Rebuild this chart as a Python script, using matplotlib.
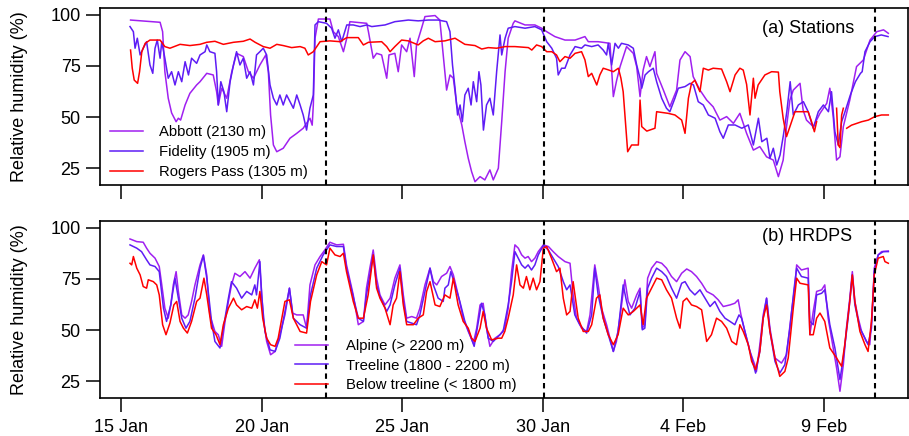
import matplotlib
matplotlib.use("Agg")
import matplotlib.pyplot as plt
import numpy as np

nan = np.nan

# ---- x axis: days since 15 Jan 00:00 ----
tick_days = [0, 5, 10, 15, 20, 25]
tick_labels = ["15 Jan", "20 Jan", "25 Jan", "30 Jan", "4 Feb", "9 Feb"]
event_days = [7.30, 15.05, 26.81]

# ---- (a) Stations ----
abbott_t = [0.34, 1.39, 1.48, 1.56, 1.68, 1.80, 1.96, 2.04, 2.12, 2.28, 2.45, 2.69, 2.81, 3.05, 3.28, 3.40, 3.46,
            3.58, 3.76, 3.94, 4.11, 4.35, 4.53, 4.71, 4.94, 5.15, 5.24, 5.32, 5.42, 5.54, 5.77, 6.01, 6.25, 6.48,
            6.72, 6.80, 6.84, 6.90, 7.02, 7.43, 7.55, 7.73, 7.91, 8.03, 8.14, 8.74, 8.80, 8.97, 9.09, 9.27, 9.45,
            9.53, 9.74, 9.86, 9.98, 10.16, 10.28, 10.43, 10.51, 10.69, 10.81, 11.17, 11.34, 11.46, 11.58, 11.70,
            11.82, 11.94, 12.12, 12.23, 12.35, 12.47, 12.59, 12.77, 12.94, 13.12, 13.24, 13.42, 13.54, 13.66,
            13.77, 13.95, 14.01, 14.37, 14.72, 14.96, 15.14, 15.43, 15.79, 16.15, 16.50, 16.62, 16.97, 17.39,
            17.51, 17.63, 17.75, 17.98, 18.22, 18.34, 18.46, 18.57, 18.69, 18.81, 18.99, 19.05, 19.29, 19.52,
            19.76, 19.88, 20.06, 20.24, 20.35, 20.59, 20.83, 21.06, 21.30, 21.54, 21.78, 22.01, 22.25, 22.49,
            22.72, 22.96, 23.20, 23.38, 23.55, 23.67, 23.79, 23.91, 24.15, 24.26, 24.38, 24.62, 24.86, 25.10,
            25.21, 25.33, 25.45, 25.57, 25.69, 25.92, 26.16, 26.40, 26.64, 26.88, 27.12, 27.29]
abbott_rh = [97.5, 96.4, 91.8, 72.2, 59.2, 52.0, 47.7, 49.4, 48.5, 55.9, 61.6, 65.7, 67.3, 71.4, 70.6, 62.4, 55.9,
             64.1, 59.2, 72.2, 81.2, 79.6, 72.2, 69.0, 75.5, 80.4, 72.2, 51.0, 36.3, 33.0, 34.7, 39.6, 42.0, 44.5,
             49.4, 46.0, 55.9, 88.6, 98.0, 98.0, 91.8, 89.4, 82.0, 88.6, 96.7, 95.9, 91.8, 78.8, 81.2, 80.4, 69.0,
             80.4, 81.2, 72.2, 85.3, 82.0, 88.6, 69.8, 85.3, 93.5, 99.2, 99.7, 97.5, 80.4, 63.2, 70.6,
             69.0, 55.9, 46.1, 37.9, 29.8, 23.2, 18.3, 20.8, 19.2, 24.1, 19.2, 24.9, 47.7, 72.2,
             88.6, 95.9, 97.1, 95.1, 95.1, 93.5, 91.8, 89.4, 87.7, 87.7, 89.4, 86.9, 86.9, 86.1,
             60.0, 68.1, 74.7, 84.5, 81.2, 74.7, 60.0, 73.0, 79.6, 74.7, 82.0, 71.4, 63.2, 55.0,
             63.2, 77.9, 82.0, 79.6, 69.8, 63.2, 58.3, 55.0, 48.5, 50.2, 46.9, 51.8, 42.0, 33.8,
             35.5, 30.5, 28.9, 20.8, 28.9, 45.3, 58.3, 63.2, 66.5, 53.4, 48.5, 45.3, 51.8, 56.7,
             64.1, 50.2, 28.9, 30.5, 45.3, 58.3, 74.7, 77.9, 87.7, 91.8, 92.7, 91.0]

fidelity_t = [0.32, 0.44, 0.50, 0.58, 0.68, 0.79, 0.91, 1.03, 1.13, 1.21, 1.29, 1.39, 1.45, 1.56, 1.68, 1.80, 1.92,
              2.04, 2.16, 2.28, 2.40, 2.51, 2.69, 2.81, 2.99, 3.05, 3.16, 3.34, 3.40, 3.46, 3.55, 3.66, 3.76, 3.88,
              4.00, 4.11, 4.23, 4.35, 4.47, 4.59, 4.71, 4.82, 4.94, 5.06, 5.18, 5.30, 5.42, 5.54, 5.65, 5.77, 5.89,
              6.01, 6.13, 6.25, 6.37, 6.48, 6.60, 6.72, 6.84, 6.90, 7.02, 7.31, 7.49, 7.61, 7.73, 7.85, 8.03, 8.26,
              8.50, 8.74, 8.92, 9.39, 9.74, 10.22, 10.57, 10.93, 11.28, 11.58, 11.70, 11.79, 11.88, 11.97, 12.06,
              12.14, 12.23, 12.35, 12.45, 12.53, 12.65, 12.73, 12.80, 12.89, 13.00, 13.12, 13.24, 13.36, 13.48,
              13.54, 13.66, 13.77, 14.01, 14.37, 14.72, 14.96, 15.14, 15.32, 15.49, 15.55, 15.67, 15.79, 15.97,
              16.15, 16.38, 16.50, 16.74, 16.97, 17.15, 17.27, 17.33, 17.45, 17.57, 17.69, 17.80, 18.04, 18.22,
              18.34, 18.46, 18.52, 18.64, 18.76, 18.93, 19.05, 19.23, 19.40, 19.52, 19.70, 19.82, 20.06, 20.24,
              20.36, 20.53, 20.71, 20.89, 21.13, 21.30, 21.42, 21.60, 21.84, 22.08, 22.31, 22.49, 22.67, 22.79,
              22.97, 23.08, 23.20, 23.32, 23.44, 23.56, 23.68, 23.80, 23.91, 24.09, 24.27, 24.44, 24.62, 24.80,
              24.98, 25.16, 25.27, 25.39, 25.51, 25.63, 25.75, 25.94, 26.12, 26.30, 26.36, 26.46, 26.64, 26.81,
              27.04, 27.28]
fidelity_rh = [94.3, 91.8, 83.7, 88.6, 80.4, 83.7, 86.9, 75.5, 71.4, 83.7, 87.7, 78.8, 86.9, 78.8, 69.0, 72.2, 65.7,
               72.2, 67.3, 77.1, 70.6, 78.8, 76.3, 80.4, 82.0, 85.3, 82.0, 81.2, 72.2, 55.9, 67.3, 62.4, 52.6, 67.3,
               75.5, 82.0, 75.5, 78.8, 69.0, 72.2, 65.7, 80.4, 82.0, 83.7, 80.4, 65.7, 59.2, 55.9, 60.8, 55.9, 60.8,
               57.5, 54.3, 60.8, 55.9, 51.0, 43.6, 54.3, 60.8, 95.1, 96.7, 95.9, 93.5, 88.6, 92.7, 86.9, 95.1, 95.1,
               94.3, 95.1, 94.3, 95.1, 96.7, 97.5, 97.1, 97.5, 97.5, 96.7, 91.8, 75.5, 64.1, 51.0, 55.9,
               47.7, 60.8, 64.1, 55.9, 67.3, 57.5, 72.2, 65.7, 43.6, 55.9, 59.2, 51.0, 72.2, 90.2,
               80.4, 88.6, 93.5, 94.3, 93.5, 94.3, 92.7, 86.9, 83.7, 78.8, 70.6, 73.9, 73.9, 80.4,
               84.5, 83.7, 85.3, 84.5, 85.3, 82.8, 80.4, 86.1, 75.5, 86.1, 83.7, 86.1, 85.3, 83.7,
               75.5, 69.0, 64.1, 70.6, 72.2, 73.9, 67.3, 59.2, 54.3, 52.6, 59.2, 64.1, 64.9, 66.5,
               65.7, 57.5, 55.9, 51.0, 49.4, 42.8, 39.6, 46.1, 46.1, 44.5, 46.1, 36.3, 49.4, 37.9,
               39.6, 29.8, 34.7, 26.5, 31.4, 41.2, 52.6, 67.3, 51.0, 55.9, 57.5, 52.6, 44.5, 52.6,
               55.9, 52.6, 62.4, 42.8, 36.3, 47.7, 52.6, 60.8, 67.3, 71.4, 72.2, 82.0, 86.9, 89.4,
               90.2, 89.4]

rogers_t = [0.34, 0.40, 0.47, 0.59, 0.66, 0.74, 0.86, 1.03, 1.39, 1.56, 1.74, 2.10, 2.45, 2.81, 3.05, 3.34, 3.64,
            4.00, 4.35, 4.59, 4.77, 5.06, 5.30, 5.54, 5.77, 6.07, 6.37, 6.54, 6.66, 6.84, 7.08, 7.43, 7.79, 8.03,
            8.44, 8.62, 8.80, 9.27, 9.45, 9.57, 9.74, 9.98, 10.22, 10.57, 10.75, 10.93, 11.17, 11.52, 11.88,
            12.23, 12.59, 12.83, 13.06, 13.36, 13.66, 14.01, 14.49, 14.61, 14.78, 14.96, 15.14, 15.32, 15.49,
            15.61, 15.79, 15.97, 16.15, 16.38, 16.50, 16.62, 16.74, 16.92, 17.03, 17.15, 17.33, 17.51, 17.69,
            17.78, 17.86, 17.95, 18.02, 18.16, 18.40, 18.46, 18.52, 18.70, 18.99, 19.05, 19.46, 19.70, 19.94,
            20.06, 20.18, 20.29, 20.41, 20.59, 20.71, 20.89, 21.06, 21.36, 21.54, 21.66, 21.84, 22.01, 22.13,
            22.25, 22.37, 22.49, 22.55, 22.66, 22.90, 23.14, 23.38, 23.43, 23.55, 23.67, 23.85, 23.97, 24.44,
            24.56, 24.66, 24.74, 25.10, 25.45, 25.51, 25.57, 25.63, 25.69, 25.75, 25.81, 25.98, 26.34, 26.58,
            26.81, 27.05, 27.29]
rogers_rh = [82.8, 73.9, 68.1, 66.5, 72.2, 82.0, 86.1, 87.7, 87.7, 84.5, 83.7, 85.6, 85.0, 85.6, 86.6, 87.1, 85.6,
             86.6, 87.1, 88.2, 86.6, 84.5, 83.7, 85.6, 85.0, 84.0, 84.5, 83.7, 80.4, 82.0, 86.9, 87.3, 86.9, 88.9,
             88.9, 85.3, 86.6, 86.9, 84.5, 82.0, 84.5, 87.7, 87.3, 85.3, 87.3, 88.6, 86.9, 87.3, 88.6,
             85.6, 85.0, 83.3, 84.0, 83.7, 84.5, 84.5, 84.0, 82.8, 85.3, 84.5, 82.0, 82.0, 80.4,
             77.1, 79.6, 78.8, 81.2, 82.0, 78.0, 69.8, 71.4, 65.7, 70.6, 73.9, 73.1, 72.2, 73.9,
             69.0, 62.4, 46.1, 33.0, 36.3, 36.3, 58.3, 45.3, 43.1, 44.5, 52.6, 51.8, 51.0, 48.5,
             42.0, 59.2, 66.5, 68.0, 62.4, 73.9, 73.0, 73.9, 73.5, 67.3, 62.4, 70.6, 73.9, 73.0,
             66.0, 51.0, 69.0, 59.2, 65.7, 70.6, 72.2, 72.0, 62.4, 49.4, 40.4, 47.7, 52.6, 52.6,
             47.7, 42.8, 47.7, nan, 54.3, 36.3, 35.0, 51.0, 54.3, nan, 44.5, 46.0, 47.7, 48.5,
             50.2, 51.0, 51.0]

# ---- (b) HRDPS ----
alpine_t = [0.32, 0.56, 0.79, 0.91, 1.03, 1.21, 1.36, 1.45, 1.56, 1.68, 1.77, 1.86, 1.96, 2.04, 2.16, 2.28, 2.39,
            2.51, 2.63, 2.81, 2.93, 3.05, 3.16, 3.34, 3.46, 3.58, 3.70, 3.82, 3.93, 4.05, 4.23, 4.41, 4.59, 4.76,
            4.92, 5.00, 5.06, 5.18, 5.32, 5.48, 5.65, 5.83, 5.99, 6.10, 6.25, 6.48, 6.60, 6.72, 6.90, 7.08, 7.25,
            7.43, 7.67, 7.91, 8.02, 8.26, 8.44, 8.62, 8.73, 8.85, 8.97, 9.09, 9.21, 9.39, 9.57, 9.74, 9.92,
            10.04, 10.16, 10.34, 10.51, 10.63, 10.81, 10.99, 11.11, 11.23, 11.40, 11.58, 11.70, 11.82, 11.99,
            12.17, 12.35, 12.53, 12.65, 12.77, 12.88, 13.00, 13.12, 13.30, 13.48, 13.65, 13.77, 13.89, 14.01,
            14.13, 14.25, 14.37, 14.48, 14.60, 14.72, 14.84, 15.02, 15.20, 15.37, 15.55, 15.79, 15.97, 16.08,
            16.20, 16.38, 16.56, 16.68, 16.85, 16.97, 17.09, 17.27, 17.39, 17.51, 17.62, 17.74, 17.92, 18.04,
            18.16, 18.34, 18.46, 18.54, 18.63, 18.73, 18.87, 19.05, 19.23, 19.40, 19.58, 19.76, 19.94, 20.12,
            20.29, 20.47, 20.65, 20.83, 21.06, 21.24, 21.42, 21.66, 21.83, 21.95, 22.05, 22.19, 22.37, 22.54,
            22.60, 22.72, 22.84, 22.96, 23.08, 23.26, 23.49, 23.67, 23.85, 23.97, 24.03, 24.20, 24.44, 24.50,
            24.62, 24.74, 24.92, 25.03, 25.15, 25.33, 25.45, 25.57, 25.69, 25.80, 25.92, 26.01, 26.10, 26.22,
            26.34, 26.51, 26.63, 26.72, 26.79, 26.93, 27.05, 27.29]
alpine_rh = [94.6, 93.3, 93.0, 90.1, 87.6, 85.2, 81.1, 72.1, 60.7, 55.8, 62.3, 72.1, 78.6, 68.9, 57.4, 55.8, 57.4,
             64.0, 72.1, 81.9, 86.8, 77.0, 57.4, 49.3, 47.7, 42.0, 54.2, 64.0, 72.1, 77.8, 76.2, 78.6, 75.4, 80.3,
             84.4, 68.9, 55.8, 44.4, 37.9, 39.5, 47.7, 57.4, 70.5, 58.3, 57.4, 57.4, 50.9, 72.1, 81.9, 86.0, 89.2,
             93.0, 91.7, 92.0, 81.9, 67.2, 52.6, 54.2, 70.5, 80.3, 89.2, 75.4, 67.2, 62.3, 65.6, 75.4, 81.9,
             67.2, 55.8, 56.6, 55.8, 60.7, 72.1, 80.3, 73.7, 72.1, 76.2, 77.8, 81.1, 77.0, 67.2,
             55.8, 49.3, 43.6, 50.9, 62.3, 63.1, 50.9, 42.0, 46.0, 47.7, 50.9, 60.7, 78.6, 91.7,
             90.1, 86.8, 85.2, 86.0, 83.5, 85.2, 88.4, 91.7, 90.9, 88.4, 86.0, 83.5, 82.7, 67.2,
             55.8, 50.9, 49.3, 57.4, 81.9, 72.1, 60.7, 52.6, 46.0, 39.5, 44.4, 55.8, 74.6, 64.0,
             60.7, 67.2, 70.5, 50.9, 52.6, 75.4, 80.3, 83.5, 82.7, 80.3, 76.2, 73.7, 77.8, 79.9,
             78.6, 76.2, 72.9, 68.9, 67.2, 64.8, 61.5, 62.3, 63.1, 64.8, 57.4, 49.3, 39.5, 33.0,
             29.7, 42.8, 57.4, 65.6, 50.9, 36.3, 33.8, 37.9, 59.1, 72.1, 81.9, 79.4, 80.3, 47.7,
             59.1, 68.9, 69.7, 72.1, 55.8, 41.2, 31.4, 20.0, 33.0, 50.9, 65.6, 78.6, 64.0, 55.8,
             49.3, 44.4, 42.8, 59.1, 80.3, 86.8, 88.4, 88.7]

treeline_t = [0.32, 0.56, 0.73, 0.91, 1.03, 1.21, 1.36, 1.51, 1.62, 1.77, 1.92, 2.04, 2.16, 2.31, 2.45, 2.63, 2.81,
              2.93, 3.05, 3.22, 3.34, 3.52, 3.64, 3.82, 3.93, 4.11, 4.29, 4.47, 4.65, 4.76, 4.82, 4.94, 5.00, 5.12,
              5.30, 5.48, 5.65, 5.83, 5.99, 6.13, 6.37, 6.60, 6.74, 6.96, 7.19, 7.43, 7.67, 7.91, 8.02, 8.26, 8.44,
              8.62, 8.73, 8.85, 8.97, 9.09, 9.21, 9.45, 9.57, 9.74, 9.92, 10.04, 10.16, 10.34, 10.51, 10.63, 10.81,
              10.99, 11.11, 11.28, 11.46, 11.52, 11.64, 11.73, 11.88, 12.05, 12.23, 12.41, 12.56, 12.71, 12.82,
              12.94, 13.06, 13.24, 13.42, 13.59, 13.77, 13.89, 14.01, 14.13, 14.25, 14.37, 14.48, 14.60, 14.72,
              14.84, 15.02, 15.20, 15.37, 15.55, 15.73, 15.85, 15.97, 16.14, 16.32, 16.56, 16.74, 16.85, 16.97,
              17.15, 17.33, 17.51, 17.68, 17.86, 17.98, 18.10, 18.28, 18.46, 18.54, 18.63, 18.73, 18.87, 19.05,
              19.23, 19.40, 19.58, 19.76, 19.94, 20.06, 20.23, 20.41, 20.59, 20.77, 20.95, 21.12, 21.30, 21.48,
              21.66, 21.83, 21.98, 22.07, 22.25, 22.43, 22.57, 22.72, 22.84, 22.96, 23.08, 23.26, 23.43, 23.61,
              23.79, 23.94, 24.03, 24.20, 24.44, 24.50, 24.62, 24.74, 24.92, 25.03, 25.21, 25.39, 25.57, 25.69,
              25.86, 26.01, 26.10, 26.28, 26.46, 26.57, 26.69, 26.79, 26.93, 27.11, 27.29]
treeline_rh = [91.7, 90.1, 88.4, 84.4, 81.9, 81.1, 78.6, 60.7, 54.2, 62.3, 75.4, 65.6, 55.8, 50.9, 54.2, 65.6, 80.3,
               86.5, 75.4, 54.2, 44.4, 41.2, 50.9, 65.6, 73.7, 70.5, 65.6, 68.9, 67.2, 72.1, 67.2, 83.5, 67.2, 49.3,
               40.3, 39.5, 46.0, 59.1, 70.5, 55.8, 52.6, 50.9, 67.2, 80.3, 86.8, 91.7, 90.9, 90.9, 80.3, 66.4, 55.8,
               54.2, 67.2, 77.0, 86.8, 72.1, 66.4, 59.1, 62.3, 72.1, 80.3, 64.0, 54.2, 53.4, 52.6, 57.4, 68.9,
               80.3, 72.1, 65.6, 64.0, 70.5, 72.1, 78.6, 72.1, 64.0, 54.2, 47.7, 42.0, 54.2, 63.1,
               57.4, 46.0, 44.4, 46.9, 49.3, 62.3, 73.7, 88.4, 85.2, 81.9, 80.3, 81.9, 79.4, 81.9,
               86.8, 91.4, 89.2, 85.2, 81.1, 73.7, 69.7, 72.1, 57.4, 52.6, 48.5, 57.4, 80.3, 67.2,
               55.8, 47.7, 39.5, 49.3, 72.1, 64.0, 57.4, 60.7, 68.9, 50.1, 50.9, 70.5, 75.4, 80.3,
               78.6, 76.2, 70.5, 65.6, 72.9, 73.7, 69.7, 67.2, 69.7, 65.6, 61.5, 64.0, 59.1, 55.8,
               54.2, 52.6, 57.4, 55.8, 46.0, 36.3, 28.9, 39.5, 55.8, 65.6, 49.3, 34.6, 28.9, 33.0,
               50.9, 70.5, 80.3, 76.2, 75.4, 54.2, 52.6, 67.2, 68.0, 69.7, 52.6, 41.2, 25.7, 36.3,
               55.8, 77.0, 62.3, 50.9, 46.0, 42.8, 50.9, 78.6, 86.8, 88.4, 88.4]

below_t = [0.32, 0.38, 0.44, 0.56, 0.68, 0.79, 0.91, 0.97, 1.15, 1.27, 1.36, 1.48, 1.60, 1.74, 1.88, 1.98, 2.10,
           2.22, 2.36, 2.51, 2.69, 2.81, 2.95, 3.05, 3.22, 3.38, 3.52, 3.64, 3.82, 4.00, 4.11, 4.29, 4.47, 4.65,
           4.76, 4.85, 4.94, 5.04, 5.18, 5.32, 5.48, 5.59, 5.83, 5.99, 6.13, 6.37, 6.60, 6.74, 6.96, 7.14, 7.31,
           7.43, 7.61, 7.79, 7.91, 8.02, 8.26, 8.44, 8.62, 8.79, 8.85, 8.97, 9.09, 9.21, 9.39, 9.57, 9.68, 9.80,
           9.92, 10.04, 10.16, 10.40, 10.57, 10.75, 10.87, 10.99, 11.17, 11.34, 11.52, 11.70, 11.82, 11.99,
           12.17, 12.35, 12.47, 12.59, 12.77, 12.88, 13.00, 13.18, 13.42, 13.54, 13.65, 13.77, 13.95, 14.07,
           14.19, 14.31, 14.42, 14.54, 14.66, 14.78, 14.90, 15.02, 15.14, 15.31, 15.49, 15.61, 15.73, 15.85,
           15.97, 16.08, 16.26, 16.44, 16.62, 16.74, 16.91, 17.03, 17.15, 17.33, 17.51, 17.68, 17.86, 18.04,
           18.22, 18.46, 18.57, 18.69, 18.87, 19.05, 19.23, 19.40, 19.58, 19.76, 19.88, 19.99, 20.12, 20.29,
           20.47, 20.65, 20.83, 21.00, 21.18, 21.36, 21.54, 21.72, 21.89, 22.01, 22.13, 22.31, 22.43, 22.57,
           22.72, 22.84, 22.96, 23.08, 23.26, 23.43, 23.61, 23.73, 23.91, 24.03, 24.15, 24.44, 24.50, 24.62,
           24.74, 24.86, 25.03, 25.21, 25.45, 25.63, 25.74, 25.92, 26.01, 26.10, 26.28, 26.46, 26.57, 26.69,
           26.79, 26.93, 27.11, 27.17, 27.29]
below_rh = [82.7, 81.9, 86.0, 80.3, 77.0, 71.3, 70.5, 74.6, 73.7, 72.1, 67.2, 52.6, 47.7, 53.4, 62.3, 64.0, 54.2,
            50.9, 48.5, 54.2, 64.0, 65.6, 75.4, 67.2, 50.9, 47.7, 42.8, 52.6, 60.7, 65.6, 62.3, 59.9, 61.5, 60.7,
            64.8, 60.7, 68.9, 55.8, 46.0, 42.8, 42.0, 46.0, 64.0, 64.8, 55.8, 49.3, 48.5, 64.0, 77.0, 83.5, 81.9,
            90.1, 86.8, 86.0, 87.6, 78.6, 64.0, 55.8, 55.8, 67.2, 73.7, 86.8, 70.5, 65.6, 60.7, 52.6, 62.3, 65.6,
            78.6, 62.3, 52.6, 52.6, 55.8, 57.4, 68.9, 73.7, 62.3, 61.5, 67.2, 65.6, 75.4, 62.3,
            54.2, 50.9, 46.0, 44.4, 50.9, 59.1, 50.9, 45.2, 46.0, 46.0, 49.3, 55.8, 67.2, 81.9,
            72.1, 70.5, 76.2, 69.7, 75.4, 69.7, 73.7, 90.1, 90.9, 85.2, 78.6, 80.3, 65.6, 57.4,
            59.1, 73.7, 55.8, 49.3, 49.3, 52.6, 65.6, 67.2, 55.8, 47.7, 42.8, 47.7, 60.7, 57.4,
            59.1, 62.3, 52.6, 65.6, 70.5, 75.4, 74.6, 69.7, 65.6, 55.8, 50.9, 64.0, 65.6, 62.3,
            61.5, 59.9, 44.4, 47.7, 55.8, 54.2, 50.9, 44.4, 42.8, 52.6, 49.3, 42.8, 34.6, 30.6,
            39.5, 55.8, 62.3, 49.3, 36.3, 27.3, 29.7, 36.3, 60.7, 75.4, 72.9, 72.1, 47.7, 47.7,
            55.8, 58.3, 54.2, 41.2, 36.3, 32.2, 42.8, 64.0, 77.0, 64.0, 49.3, 42.8, 39.5, 54.2,
            77.0, 85.2, 86.0, 83.5, 82.7]

c_purple = "#A020F0"
c_violet = "#5E1CF5"
c_red = "#FF0000"

plt.rcParams['font.family'] = ['Liberation Sans', 'DejaVu Sans']

W, H = 909, 436
fig = plt.figure(figsize=(W / 100, H / 100), dpi=100)
axa = fig.add_axes([100 / W, 1 - 185 / H, 808 / W, 177 / H])
axb = fig.add_axes([100 / W, 1 - 398 / H, 808 / W, 177 / H])

lw = 1.1
la = [
    axa.plot(abbott_t, abbott_rh, color=c_purple, lw=lw)[0],
    axa.plot(fidelity_t, fidelity_rh, color=c_violet, lw=lw)[0],
    axa.plot(rogers_t, rogers_rh, color=c_red, lw=lw)[0],
]
lb = [
    axb.plot(alpine_t, alpine_rh, color=c_purple, lw=lw)[0],
    axb.plot(treeline_t, treeline_rh, color=c_violet, lw=lw)[0],
    axb.plot(below_t, below_rh, color=c_red, lw=lw)[0],
]
for ax in (axa, axb):
    for d in event_days:
        ax.axvline(d, color="black", lw=1.5, ls=(0, (2.6, 2.0)))
    ax.set_xlim(-0.747, 27.99)
    ax.set_ylim(16.7, 103.4)
    ax.set_yticks([25, 50, 75, 100])
    ax.set_xticks(tick_days)
    ax.tick_params(axis="both", direction="out", length=10, width=1.1, labelsize=13, color="black")
    ax.tick_params(axis="y", pad=4)
    ax.tick_params(axis="x", pad=5)
    for s in ax.spines.values():
        s.set_linewidth(1.2)

axa.set_xticklabels([])
axb.set_xticklabels(tick_labels)

fig.text(20 / W, 1 - 96.5 / H, "Relative humidity (%)", rotation=90, ha="center", va="center", fontsize=13)
fig.text(20 / W, 1 - 309.5 / H, "Relative humidity (%)", rotation=90, ha="center", va="center", fontsize=13)

axa.text(0.934, 0.887, "(a) Stations", transform=axa.transAxes, ha="right", va="center", fontsize=13)
axb.text(0.931, 0.911, "(b) HRDPS", transform=axb.transAxes, ha="right", va="center", fontsize=13)

axa.legend(la, ["Abbott (2130 m)", "Fidelity (1905 m)", "Rogers Pass (1305 m)"],
           loc="upper left", bbox_to_anchor=(110 / W, 1 - 125 / H), bbox_transform=fig.transFigure,
           frameon=False, fontsize=10.7, handlelength=2.2, handletextpad=1.1, labelspacing=0.42,
           borderpad=0, borderaxespad=0)
axb.legend(lb, ["Alpine (> 2200 m)", "Treeline (1800 - 2200 m)", "Below treeline (< 1800 m)"],
           loc="upper left", bbox_to_anchor=(295 / W, 1 - 339 / H), bbox_transform=fig.transFigure,
           frameon=False, fontsize=10.7, handlelength=2.2, handletextpad=1.2, labelspacing=0.38,
           borderpad=0, borderaxespad=0)

fig.savefig("out.png", dpi=100)
